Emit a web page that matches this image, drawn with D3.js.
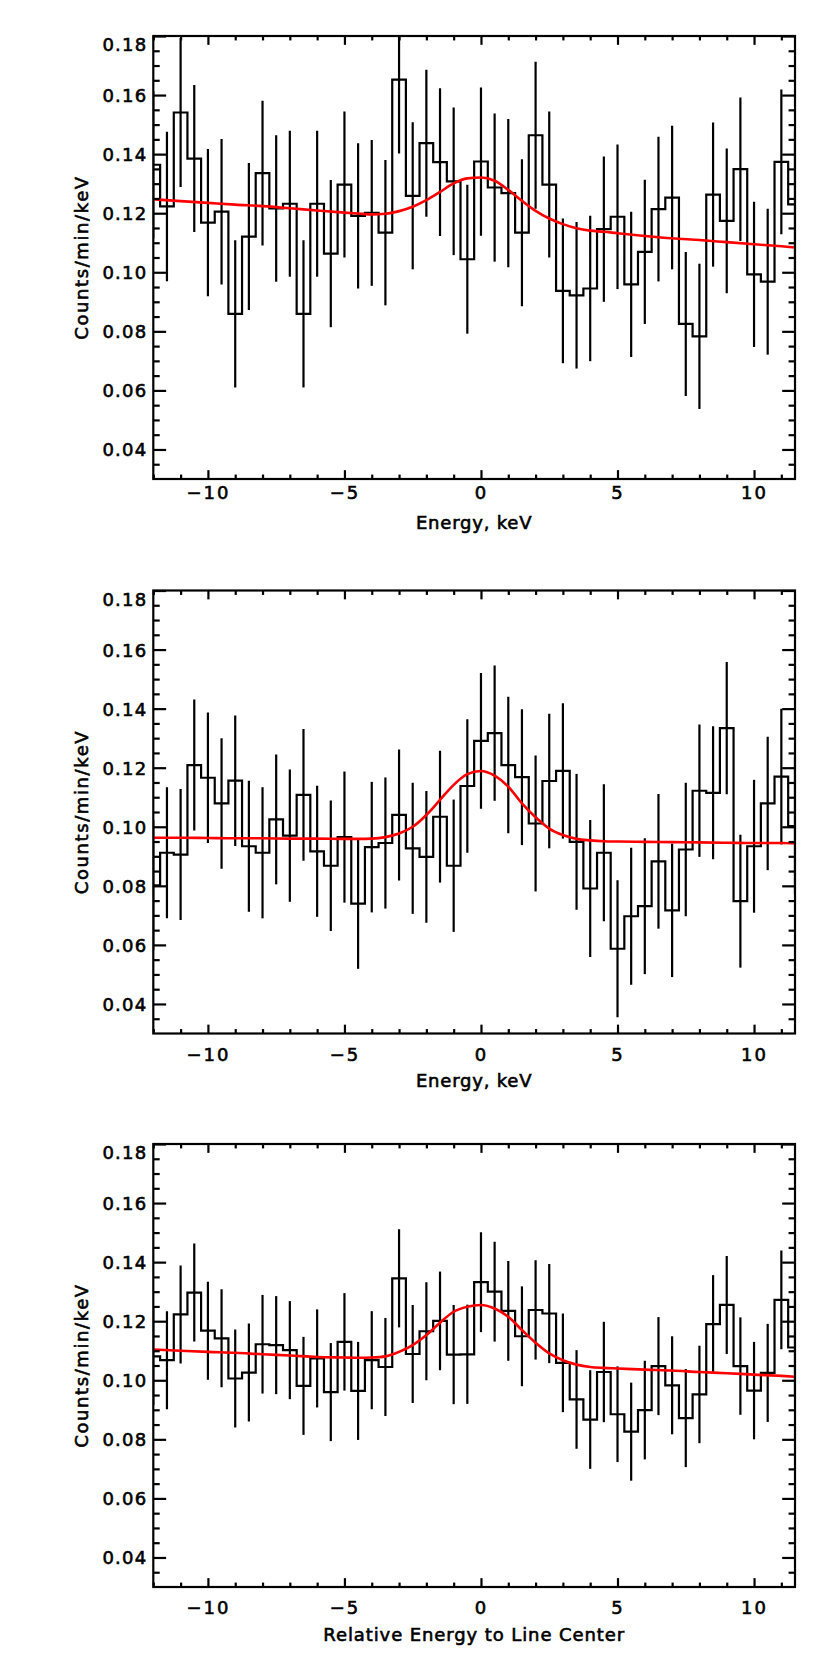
<!DOCTYPE html>
<html>
<head>
<meta charset="utf-8">
<script src="https://cdn.jsdelivr.net/npm/d3@7"></script>
<style>
  body { margin: 0; background: #fff; }
  text { font-family: "DejaVu Sans", sans-serif; fill: #000; stroke: #000; stroke-width: 0.6px; }
</style>
</head>
<body>
<div id="chart"></div>
<script>
// bin centres, keV
const energy = [-12, -11.5, -11, -10.5, -10, -9.5, -9, -8.5, -8, -7.5, -7, -6.5, -6, -5.5, -5, -4.5,
  -4, -3.5, -3, -2.5, -2, -1.5, -1, -0.5, 0, 0.5, 1, 1.5, 2, 2.5, 3, 3.5, 4, 4.5, 5, 5.5, 6, 6.5,
  7, 7.5, 8, 8.5, 9, 9.5, 10, 10.5, 11, 11.5];

const rate1 = [0.1364, 0.1223, 0.1541, 0.1385, 0.1168, 0.1205, 0.0859, 0.1121, 0.1336, 0.1216, 0.1232, 0.0859,
  0.1232, 0.1063, 0.1297, 0.1191, 0.1201, 0.1134, 0.1652, 0.1259, 0.1437, 0.1373, 0.1308, 0.1044,
  0.1375, 0.1287, 0.1268, 0.1134, 0.1464, 0.1297, 0.0937, 0.0922, 0.0945, 0.1146, 0.1188, 0.0959,
  0.1069, 0.1214, 0.1253, 0.0825, 0.0783, 0.1263, 0.1174, 0.1349, 0.0993, 0.0968, 0.1374, 0.1230];
const err1 = [0.0250, 0.0253, 0.0252, 0.0249, 0.0249, 0.0246, 0.0249, 0.0249, 0.0245, 0.0248, 0.0247, 0.0249,
  0.0247, 0.0249, 0.0247, 0.0246, 0.0247, 0.0246, 0.0250, 0.0249, 0.0249, 0.0250, 0.0250, 0.0252,
  0.0251, 0.0251, 0.0251, 0.0249, 0.0249, 0.0247, 0.0245, 0.0248, 0.0246, 0.0246, 0.0245, 0.0246,
  0.0244, 0.0245, 0.0243, 0.0244, 0.0246, 0.0244, 0.0245, 0.0243, 0.0246, 0.0247, 0.0245, 0.0250];

const rate2 = [0.0802, 0.0912, 0.0906, 0.1209, 0.1166, 0.1079, 0.1156, 0.0934, 0.0912, 0.1025, 0.0970, 0.1108,
  0.0917, 0.0868, 0.0965, 0.0740, 0.0931, 0.0945, 0.1040, 0.0927, 0.0898, 0.1034, 0.0868, 0.1138,
  0.1291, 0.1317, 0.1209, 0.1168, 0.1011, 0.1155, 0.1189, 0.0949, 0.0791, 0.0912, 0.0587, 0.0697,
  0.0731, 0.0883, 0.0717, 0.0923, 0.1122, 0.1115, 0.1334, 0.0748, 0.0934, 0.1079, 0.1170, 0.1002];
const err2 = [0.0220, 0.0222, 0.0222, 0.0222, 0.0221, 0.0221, 0.0221, 0.0222, 0.0222, 0.0220, 0.0224, 0.0223,
  0.0222, 0.0221, 0.0222, 0.0221, 0.0221, 0.0222, 0.0222, 0.0222, 0.0223, 0.0223, 0.0224, 0.0226,
  0.0230, 0.0229, 0.0231, 0.0230, 0.0230, 0.0228, 0.0229, 0.0230, 0.0232, 0.0232, 0.0232, 0.0232,
  0.0230, 0.0228, 0.0226, 0.0226, 0.0224, 0.0225, 0.0224, 0.0225, 0.0225, 0.0226, 0.0230, 0.0230];

const rate3 = [0.1081, 0.1068, 0.1223, 0.1297, 0.1168, 0.1142, 0.1006, 0.1026, 0.1122, 0.1119, 0.1102, 0.0981,
  0.1074, 0.0960, 0.1130, 0.0964, 0.1068, 0.1045, 0.1345, 0.1089, 0.1166, 0.1201, 0.1087, 0.1088,
  0.1332, 0.1300, 0.1235, 0.1149, 0.1238, 0.1226, 0.1059, 0.0935, 0.0867, 0.1028, 0.0885, 0.0826,
  0.0899, 0.1048, 0.0983, 0.0872, 0.0952, 0.1190, 0.1255, 0.1048, 0.0965, 0.1025, 0.1272, 0.1111];
const err3 = [0.0165, 0.0166, 0.0166, 0.0166, 0.0166, 0.0166, 0.0166, 0.0166, 0.0167, 0.0166, 0.0166, 0.0166,
  0.0166, 0.0166, 0.0165, 0.0166, 0.0166, 0.0166, 0.0166, 0.0166, 0.0166, 0.0167, 0.0168, 0.0168,
  0.0169, 0.0169, 0.0169, 0.0169, 0.0168, 0.0168, 0.0167, 0.0167, 0.0167, 0.0170, 0.0162, 0.0166,
  0.0167, 0.0166, 0.0166, 0.0166, 0.0165, 0.0166, 0.0166, 0.0165, 0.0165, 0.0166, 0.0167, 0.0167];

// fitted model (red)
const modelEnergy = [-12, -11, -10, -9, -8, -7, -6, -5, -4.5, -4, -3.5, -3, -2.5, -2, -1.5, -1, -0.5, 0,
  0.5, 1, 1.5, 2, 2.5, 3, 3.5, 4, 4.5, 5, 6, 7, 8, 9, 10, 11, 11.5];
const model1 = [0.1247, 0.1241, 0.1235, 0.1229, 0.1224, 0.1217, 0.1209, 0.1202, 0.1199, 0.1196, 0.1198, 0.1207,
  0.1222, 0.1244, 0.1272, 0.1301, 0.1318, 0.1321, 0.1310, 0.1279, 0.1242, 0.1208, 0.1182, 0.1163,
  0.1149, 0.1141, 0.1137, 0.1132, 0.1123, 0.1115, 0.1109, 0.1102, 0.1095, 0.1088, 0.1084];
const model2 = [0.0963, 0.0963, 0.0962, 0.0961, 0.0961, 0.0960, 0.0960, 0.0959, 0.0959, 0.0960, 0.0965, 0.0977,
  0.1000, 0.1040, 0.1091, 0.1142, 0.1178, 0.1189, 0.1173, 0.1136, 0.1079, 0.1032, 0.0994, 0.0972,
  0.0959, 0.0954, 0.0951, 0.0950, 0.0949, 0.0948, 0.0947, 0.0946, 0.0945, 0.0945, 0.0944];
const model3 = [0.1104, 0.1100, 0.1096, 0.1093, 0.1088, 0.1084, 0.1079, 0.1077, 0.1076, 0.1077, 0.1081, 0.1096,
  0.1119, 0.1153, 0.1195, 0.1232, 0.1249, 0.1255, 0.1243, 0.1215, 0.1170, 0.1127, 0.1091, 0.1068,
  0.1053, 0.1045, 0.1042, 0.1040, 0.1036, 0.1033, 0.1028, 0.1024, 0.1019, 0.1015, 0.1012];

const xTicks = [-10, -5, 0, 5, 10];
const xMinorTicks = [-12, -11, -9, -8, -7, -6, -4, -3, -2, -1, 1, 2, 3, 4, 6, 7, 8, 9, 11];
const yTicks = [0.04, 0.06, 0.08, 0.10, 0.12, 0.14, 0.16, 0.18];
const yMinorTicks = [0.035, 0.045, 0.05, 0.055, 0.065, 0.07, 0.075, 0.085, 0.09, 0.095, 0.105, 0.11, 0.115,
  0.125, 0.13, 0.135, 0.145, 0.15, 0.155, 0.165, 0.17, 0.175];
const xTitles = ["Energy, keV", "Energy, keV", "Relative Energy to Line Center"];
const yTitle = "Counts/min/keV";

const W = 830, H = 1661;
const left = 153.3, right = 795, plotH = 443;
const tops = [36, 590.5, 1144];
const tickLabelGap = [7, 14.5, 14.5];
const titleGap = [43, 47, 47];

const svg = d3.select("#chart").append("svg")
    .attr("width", W)
    .attr("height", H);

const x = d3.scaleLinear().domain([-12, 11.5]).range([left, right]);

const panels = [
  { rate: rate1, err: err1, model: model1 },
  { rate: rate2, err: err2, model: model2 },
  { rate: rate3, err: err3, model: model3 }
];

panels.forEach((p, i) => {
    const top = tops[i], bottom = top + plotH;
    const y = d3.scaleLinear().domain([0.03, 0.18]).range([bottom, top]);
    const g = svg.append("g");
    const pts = energy.map((e, k) => ({ e, v: p.rate[k], s: p.err[k] }));

    g.append("clipPath").attr("id", "clip" + i)
        .append("rect")
        .attr("x", left).attr("y", top)
        .attr("width", right - left).attr("height", plotH);

    const data = g.append("g").attr("clip-path", `url(#clip${i})`);

    // error bars
    data.selectAll("line.err")
        .data(pts)
        .join("line")
        .attr("class", "err")
        .attr("x1", d => x(d.e)).attr("x2", d => x(d.e))
        .attr("y1", d => y(d.v - d.s)).attr("y2", d => y(d.v + d.s))
        .attr("stroke", "#000")
        .attr("stroke-width", 2.2);

    // histogram (psym=10 style)
    data.append("path")
        .datum(pts)
        .attr("fill", "none")
        .attr("stroke", "#000")
        .attr("stroke-width", 2.2)
        .attr("d", d3.line().x(d => x(d.e)).y(d => y(d.v)).curve(d3.curveStep));

    // model
    data.append("path")
        .datum(modelEnergy.map((e, k) => [e, p.model[k]]))
        .attr("fill", "none")
        .attr("stroke", "#ff0000")
        .attr("stroke-width", 2.6)
        .attr("d", d3.line().x(d => x(d[0])).y(d => y(d[1])).curve(d3.curveMonotoneX));

    // axes, ticks pointing inward
    const xMajor = 0.02 * plotH, xMinor = xMajor / 2;
    const yMajor = 0.02 * (right - left), yMinor = yMajor / 2;
    const fmtX = d => (d < 0 ? "\u2212" + (-d) : "" + d);

    const bx = g.append("g").attr("transform", `translate(0,${bottom})`)
        .call(d3.axisBottom(x).tickValues(xTicks).tickSize(-xMajor).tickSizeOuter(0)
            .tickPadding(tickLabelGap[i]).tickFormat(fmtX));
    g.append("g").attr("transform", `translate(0,${bottom})`)
        .call(d3.axisBottom(x).tickValues(xMinorTicks).tickSize(-xMinor).tickSizeOuter(0).tickFormat(""));
    g.append("g").attr("transform", `translate(0,${top})`)
        .call(d3.axisTop(x).tickValues(xTicks).tickSize(-xMajor).tickSizeOuter(0).tickFormat(""));
    g.append("g").attr("transform", `translate(0,${top})`)
        .call(d3.axisTop(x).tickValues(xMinorTicks).tickSize(-xMinor).tickSizeOuter(0).tickFormat(""));

    const ly = g.append("g").attr("transform", `translate(${left},0)`)
        .call(d3.axisLeft(y).tickValues(yTicks).tickSize(-yMajor).tickSizeOuter(0)
            .tickPadding(6).tickFormat(d3.format(".2f")));
    g.append("g").attr("transform", `translate(${left},0)`)
        .call(d3.axisLeft(y).tickValues(yMinorTicks).tickSize(-yMinor).tickSizeOuter(0).tickFormat(""));
    g.append("g").attr("transform", `translate(${right},0)`)
        .call(d3.axisRight(y).tickValues(yTicks).tickSize(-yMajor).tickSizeOuter(0).tickFormat(""));
    g.append("g").attr("transform", `translate(${right},0)`)
        .call(d3.axisRight(y).tickValues(yMinorTicks).tickSize(-yMinor).tickSizeOuter(0).tickFormat(""));

    g.selectAll(".domain").remove();
    g.selectAll(".tick line").attr("stroke", "#000").attr("stroke-width", 2.2);

    bx.selectAll("text").attr("font-size", 18).attr("letter-spacing", 2);
    ly.selectAll("text").attr("font-size", 18).attr("letter-spacing", 1.2)
        .attr("dy", "0.36em");
    // top label sits just inside the frame
    ly.selectAll(".tick").filter(d => d === 0.18).select("text").attr("y", 8.5);

    // frame
    g.append("rect")
        .attr("x", left).attr("y", top)
        .attr("width", right - left).attr("height", plotH)
        .attr("fill", "none")
        .attr("stroke", "#000")
        .attr("stroke-width", 2.2);

    g.append("text")
        .attr("x", (left + right) / 2)
        .attr("y", bottom + titleGap[i])
        .attr("text-anchor", "middle")
        .attr("dominant-baseline", "central")
        .attr("font-size", 18)
        .attr("letter-spacing", i === 2 ? 0.9 : 0.8)
        .text(xTitles[i]);

    g.append("text")
        .attr("transform", `translate(81,${(top + bottom) / 2}) rotate(-90)`)
        .attr("text-anchor", "middle")
        .attr("dominant-baseline", "central")
        .attr("font-size", 18)
        .attr("letter-spacing", 1.6)
        .text(yTitle);
});
</script>
</body>
</html>
